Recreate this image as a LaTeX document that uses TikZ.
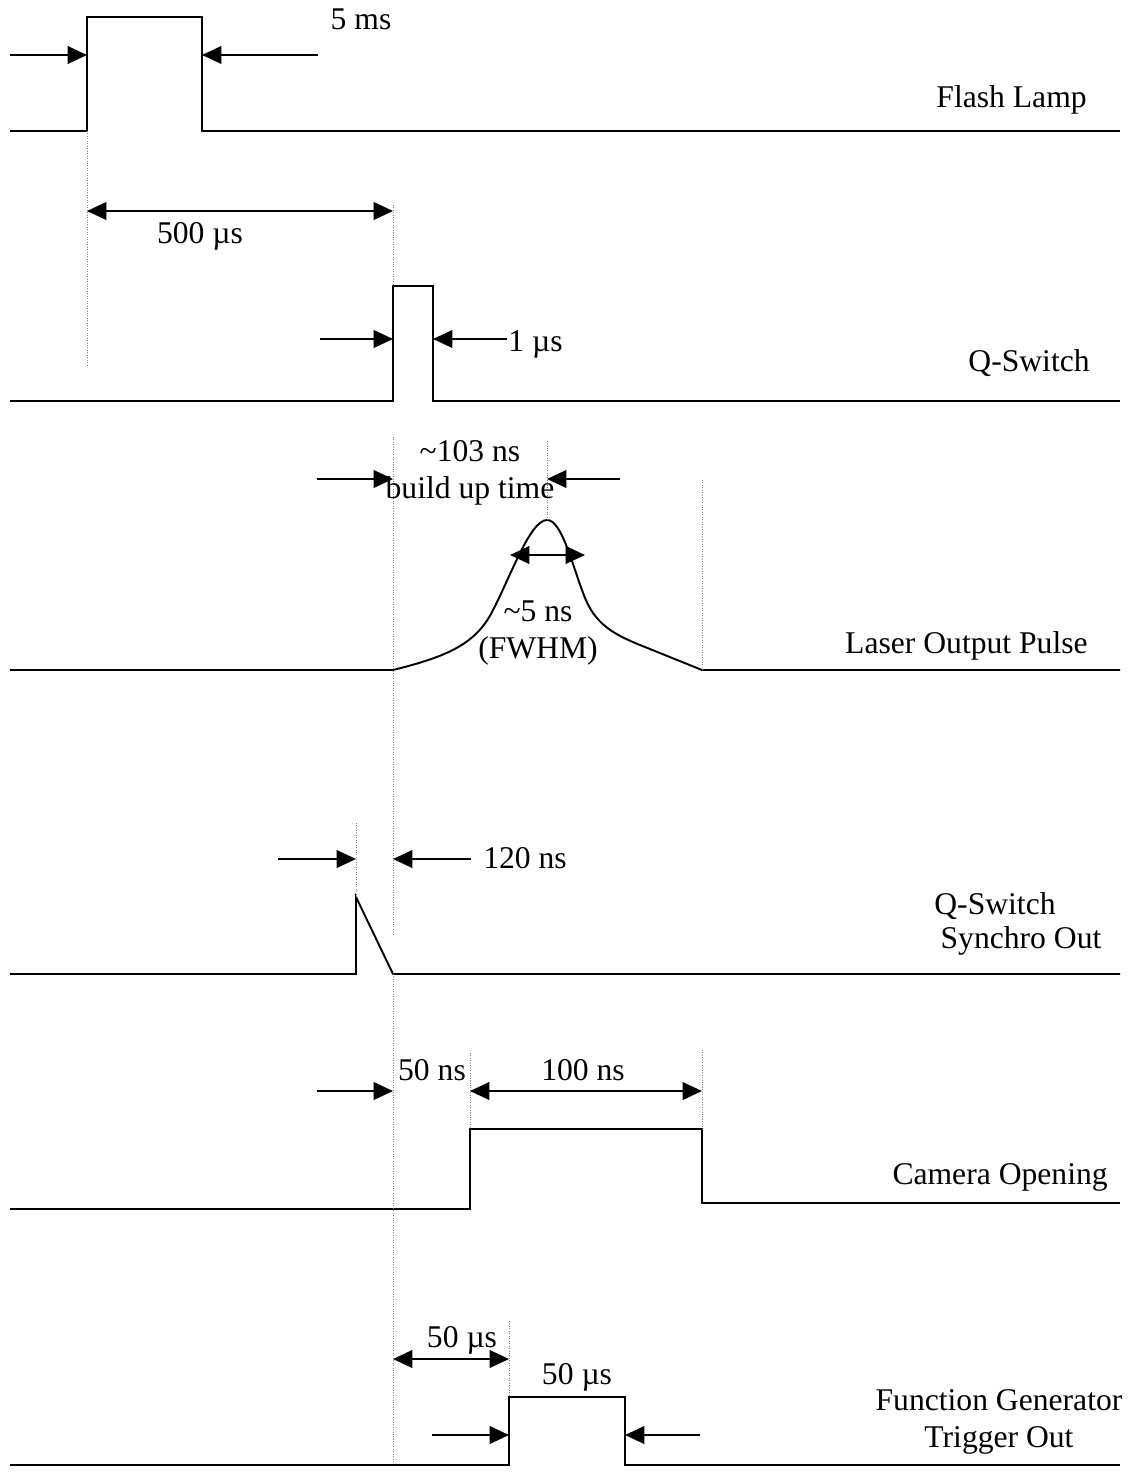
\documentclass[tikz,border=0pt]{standalone}
\usepackage{fontspec}
\setmainfont{Liberation Serif}
\usetikzlibrary{arrows.meta,positioning}

\begin{document}
\begin{tikzpicture}[
  x=0.02cm, y=-0.02cm,
  sig/.style={line width=1.1pt, line join=miter},
  dim/.style={line width=1.1pt, -{Triangle[length=11pt,width=10pt]}},
  dimboth/.style={line width=1.1pt,
                  {Triangle[length=11pt,width=10pt]}-{Triangle[length=11pt,width=10pt]}},
  guide/.style={gray, line width=0.4pt, densely dotted},
  lbl/.style={font=\fontsize{18}{21}\selectfont, inner sep=0pt, align=center},
  signame/.style={lbl, anchor=east}
]
  \useasboundingbox (0,0) rectangle (1133,1477);

  % time marks
  \coordinate (flUp) at (87,131);
  \coordinate (flDn) at (202,131);
  \coordinate (qsUp) at (393,401);
  \coordinate (qsDn) at (433,401);
  \coordinate (lpBeg) at (393,670);
  \coordinate (lpPk) at (547,520);
  \coordinate (lpEnd) at (702,670);
  \coordinate (syUp) at (356,974);
  \coordinate (syDn) at (393,974);
  \coordinate (caUp) at (470,1209);
  \coordinate (caDn) at (702,1203);
  \coordinate (fgUp) at (509,1465);
  \coordinate (fgDn) at (625,1465);

  % Flash Lamp
  \draw[sig] (10,131) -- (flUp) -- (87,17) -- (202,17) -- (flDn) -- (1120,131);
  \coordinate (flL) at (10,55);
  \coordinate (flR) at (318,55);
  \draw[dim] (flL) -- (flL -| flUp);
  \draw[dim] (flR) -- (flR -| flDn);
  \node[lbl] (t5ms) at (361,19) {5 ms};
  \node[signame] (nFlash) at (1087,100) {Flash Lamp};

  % 500 us delay
  \draw[guide] (flUp) -- (87,365);
  \draw[guide] (393,205) -- (393,286);
  \coordinate (dlL) at (87,211);
  \draw[dimboth] (dlL) -- (dlL -| qsUp);
  \node[lbl] (t500) at (200,236) {500 µs};

  % Q-Switch
  \draw[sig] (10,401) -- (qsUp) -- (393,286) -- (433,286) -- (qsDn) -- (1120,401);
  \coordinate (qsL) at (320,339);
  \coordinate (qsR) at (507,339);
  \draw[dim] (qsL) -- (qsL -| qsUp);
  \draw[dim] (qsR) -- (qsR -| qsDn);
  \node[lbl, anchor=west] (t1us) at (508,344) {1 µs};
  \node[signame] (nQS) at (1090,363) {Q-Switch};

  % Laser Output Pulse
  \draw[sig] (10,670) -- (lpBeg)
    .. controls (445,657) and (475,645) .. (492,612)
    .. controls (510,578) and (530,520) .. (lpPk)
    .. controls (562,520) and (572,565) .. (585,598)
    .. controls (595,622) and (610,633) .. (640,645)
    -- (lpEnd) -- (1120,670);
  \draw[guide] (393,437) -- (393,935);
  \draw[guide] (lpEnd) -- (702,480);
  \draw[guide] (lpPk) -- (547,440);
  \coordinate (buL) at (317,479);
  \coordinate (buR) at (620,479);
  \draw[dim] (buL) -- (buL -| lpBeg);
  \draw[dim] (buR) -- (buR -| lpPk);
  \node[lbl] (tBuild) at (470,473) {\textasciitilde103 ns\\build up time};
  \coordinate (fwL) at (510,555);
  \coordinate (fwR) at (585,555);
  \draw[dimboth] (fwL) -- (fwR);
  \node[lbl] (tFwhm) at (538,633) {\textasciitilde5 ns\\(FWHM)};
  \node[signame] (nLaser) at (1088,646) {Laser Output Pulse};

  % Q-Switch Synchro Out
  \draw[sig] (10,974) -- (syUp) -- (356,897) -- (syDn) -- (1120,974);
  \draw[guide] (syUp |- 0,897) -- (356,823);
  \coordinate (syL) at (278,859);
  \coordinate (syR) at (471,859);
  \draw[dim] (syL) -- (syL -| syUp);
  \draw[dim] (syR) -- (syR -| syDn);
  \node[lbl] (t120) at (525,858) {120 ns};
  \node[lbl] (nSync1) at (995,906) {Q-Switch};
  \node[lbl] (nSync2) at (1021,941) {Synchro Out};

  % Camera Opening
  \draw[sig] (10,1209) -- (caUp) -- (470,1129) -- (702,1129) -- (caDn) -- (1120,1203);
  \draw[guide] (syDn) -- (393,1465);
  \draw[guide] (470,1053) -- (470,1129);
  \draw[guide] (702,1050) -- (702,1129);
  \coordinate (caL) at (317,1091);
  \coordinate (caM) at (470,1091);
  \draw[dim] (caL) -- (caL -| syDn);
  \draw[dimboth] (caM) -- (caM -| caDn);
  \node[lbl] (t50ns) at (432,1070) {50 ns};
  \node[lbl] (t100ns) at (583,1070) {100 ns};
  \node[signame] (nCam) at (1108,1177) {Camera Opening};

  % Function Generator Trigger Out
  \draw[sig] (10,1465) -- (fgUp) -- (509,1397) -- (625,1397) -- (fgDn) -- (1120,1465);
  \draw[guide] (509,1321) -- (509,1397);
  \coordinate (fgM) at (393,1359);
  \draw[dimboth] (fgM) -- (fgM -| fgUp);
  \node[lbl] (t50a) at (462,1340) {50 µs};
  \node[lbl] (t50b) at (577,1377) {50 µs};
  \coordinate (fgL) at (432,1435);
  \coordinate (fgR) at (700,1435);
  \draw[dim] (fgL) -- (fgL -| fgUp);
  \draw[dim] (fgR) -- (fgR -| fgDn);
  \node[lbl] (nFunc) at (999,1422) {Function Generator\\Trigger Out};
\end{tikzpicture}
\end{document}
